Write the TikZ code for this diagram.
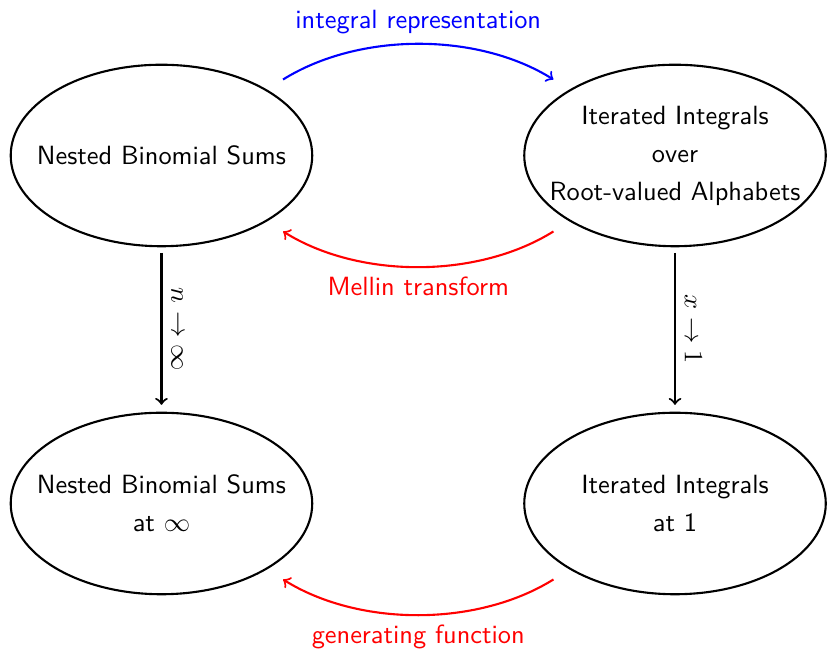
\documentclass[tikz,border=0pt]{standalone}
\usetikzlibrary{shapes.geometric}
\begin{document}
\begin{tikzpicture}[line join=round,>=to,thick,
    family/.style={ellipse,draw,minimum width=4.02cm,minimum height=2.42cm,inner xsep=-12pt,inner ysep=0pt,outer sep=7pt,
      align=center,font=\sffamily\linespread{1.2}\selectfont},
    limit/.style={->,shorten <=-4.5pt,shorten >=-4pt},
    transform/.style={->,bend left=32,looseness=0.85}]
	\useasboundingbox (0,0) rectangle (11.04,-8.667);
	% the four families of objects
	\node[family] (nbs) at (2.153,-2.073) {Nested Binomial Sums};
	\node[family] (iint) at (9,-2.073) {Iterated Integrals\\over\\Root-valued Alphabets};
	\node[family] (nbsinf) at (2.153,-6.713) {Nested Binomial Sums\\at $\infty$};
	\node[family] (iintone) at (9,-6.713) {Iterated Integrals\\at 1};
	% maps between them
	\draw[transform,blue] (nbs) to node[midway,above,font=\sffamily]{integral representation} (iint);
	\draw[transform,red] (iint) to node[midway,below,font=\sffamily]{Mellin transform} (nbs);
	\draw[transform,red] (iintone) to node[midway,below,font=\sffamily]{generating function} (nbsinf);
	\draw[limit] (nbs) -- node[midway,above,rotate=-90]{$n\to\infty$} (nbsinf);
	\draw[limit] (iint) -- node[midway,above,rotate=-90]{$x\to1$} (iintone);
\end{tikzpicture}
\end{document}
